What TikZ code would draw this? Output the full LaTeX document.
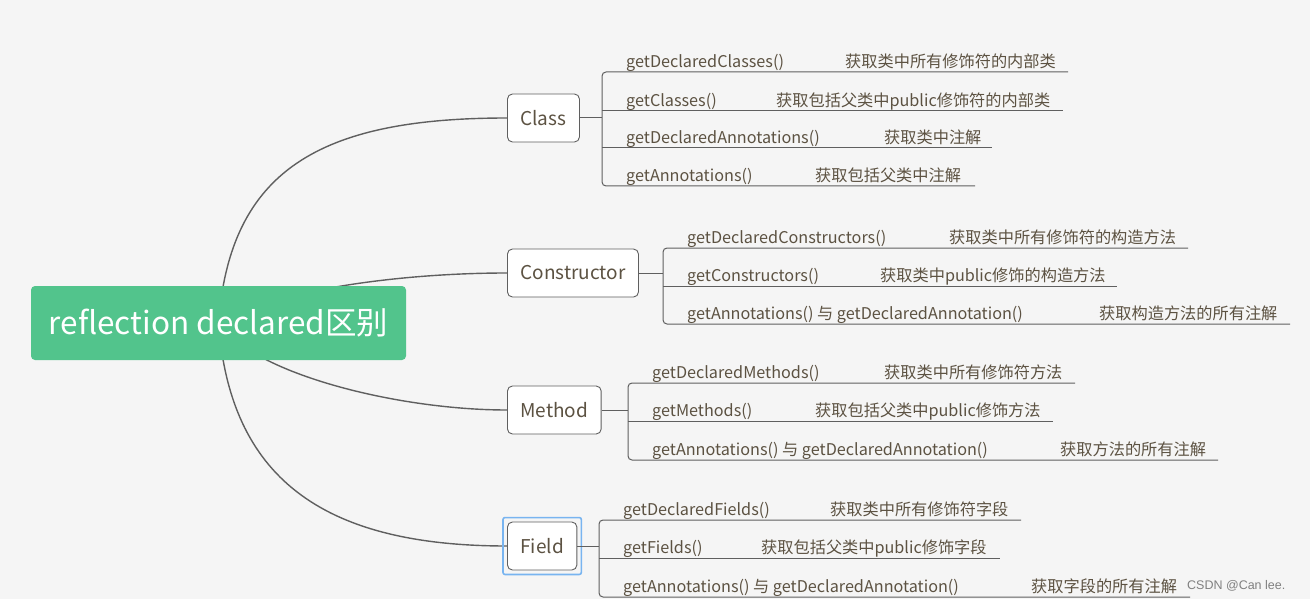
\documentclass[tikz,border=0pt]{standalone}
\usepackage{fontspec}
\setmainfont{Noto Sans CJK SC}
\newfontfamily\wmfont{Liberation Sans}
\usepackage{xcolor}
\usetikzlibrary{positioning,backgrounds,calc}

\definecolor{rootgreen}{RGB}{82,196,140}
\definecolor{bgpaper}{RGB}{245,245,245}
\definecolor{linegray}{RGB}{95,95,95}
\definecolor{txtbrown}{RGB}{92,82,66}
\definecolor{selblue}{RGB}{120,180,240}

\begin{document}
\begin{tikzpicture}[x=1pt,y=-1pt,
  root/.style={fill=rootgreen,rounded corners=4pt,text=white,font=\fontsize{31.5}{36}\selectfont,minimum width=375pt,minimum height=74pt},
  cat/.style={draw=linegray,fill=white,rounded corners=5pt,line width=0.9pt,text=txtbrown,font=\fontsize{19}{23}\selectfont,minimum height=48pt,inner xsep=13pt,anchor=west},
  item/.style={anchor=base west,inner sep=0pt,text=txtbrown,font=\fontsize{16.2}{19}\selectfont},
  branch/.style={draw=linegray,line width=1pt,rounded corners=4pt},
  link/.style={draw=linegray,line width=1.4pt}]
\useasboundingbox (0,0) rectangle (1310,599);

% root and the four categories
\node[root] (root) at (218.5,323) {reflection declared区别};
\node[cat] (class) at (507,118) {Class};
\node[cat] (ctor) at (507,273) {Constructor};
\node[cat] (method) at (507,410) {Method};
\node[cat] (field) at (507,546) {Field};
\draw[selblue,line width=1.6pt,rounded corners=2pt] ([xshift=-4pt,yshift=-4pt]field.south west) rectangle ([xshift=4pt,yshift=4pt]field.north east);

\begin{scope}[on background layer]
\fill[bgpaper] (0,0) rectangle (1310,599);
\draw[link] (root.center) .. controls (230,170) and (320,118) .. (class.west);
\draw[link] (root.center) .. controls (275,290) and (400,273) .. (ctor.west);
\draw[link] (root.center) .. controls (255,375) and (400,410) .. (method.west);
\draw[link] (root.center) .. controls (230,476) and (320,546) .. (field.west);
\end{scope}

% Class
\coordinate (classBr) at (602,118);
\draw[branch] (class.east) -- (classBr);
\draw[branch] (1068,72) -- (602,72) -- (602,186) -- (975,186);
\draw[branch] (602,111) -- (1063,111);
\draw[branch] (602,148) -- (992,148);
\node[item] (cls1) at (626,67.5) {getDeclaredClasses()};
\node[item] (cls1d) at (845,67.5) {获取类中所有修饰符的内部类};
\node[item] (cls2) at (626,106.5) {getClasses()};
\node[item] (cls2d) at (776,106.5) {获取包括父类中public修饰符的内部类};
\node[item] (cls3) at (626,143.5) {getDeclaredAnnotations()};
\node[item] (cls3d) at (884,143.5) {获取类中注解};
\node[item] (cls4) at (626,181.5) {getAnnotations()};
\node[item] (cls4d) at (815,181.5) {获取包括父类中注解};

% Constructor
\coordinate (ctorBr) at (663,273);
\draw[branch] (ctor.east) -- (ctorBr);
\draw[branch] (1188,248) -- (663,248) -- (663,324) -- (1290,324);
\draw[branch] (663,286) -- (1117,286);
\node[item] (ctr1) at (687,243.5) {getDeclaredConstructors()};
\node[item] (ctr1d) at (949,243.5) {获取类中所有修饰符的构造方法};
\node[item] (ctr2) at (687,281.5) {getConstructors()};
\node[item] (ctr2d) at (880,281.5) {获取类中public修饰的构造方法};
\node[item] (ctr3) at (687,319.5) {getAnnotations() 与 getDeclaredAnnotation()};
\node[item] (ctr3d) at (1099,319.5) {获取构造方法的所有注解};

% Method
\coordinate (methodBr) at (628,410);
\draw[branch] (method.east) -- (methodBr);
\draw[branch] (1075,383) -- (628,383) -- (628,460) -- (1218,460);
\draw[branch] (628,421) -- (1053,421);
\node[item] (mth1) at (652,378.5) {getDeclaredMethods()};
\node[item] (mth1d) at (884,378.5) {获取类中所有修饰符方法};
\node[item] (mth2) at (652,416.5) {getMethods()};
\node[item] (mth2d) at (815,416.5) {获取包括父类中public修饰方法};
\node[item] (mth3) at (652,455.5) {getAnnotations() 与 getDeclaredAnnotation()};
\node[item] (mth3d) at (1060,455.5) {获取方法的所有注解};

% Field
\coordinate (fieldBr) at (599,546);
\draw[branch] (field.east) -- (fieldBr);
\draw[branch] (1021,520) -- (599,520) -- (599,597) -- (1190,597);
\draw[branch] (599,558) -- (1000,558);
\node[item] (fld1) at (623,515.5) {getDeclaredFields()};
\node[item] (fld1d) at (830,515.5) {获取类中所有修饰符字段};
\node[item] (fld2) at (623,553.5) {getFields()};
\node[item] (fld2d) at (761,553.5) {获取包括父类中public修饰字段};
\node[item] (fld3) at (623,592.5) {getAnnotations() 与 getDeclaredAnnotation()};
\node[item] (fld3d) at (1031,592.5) {获取字段的所有注解};

\node[anchor=base west,inner sep=0pt,text=gray,font=\wmfont\fontsize{12.5}{15}\selectfont] (mark) at (1187,589) {CSDN @Can lee.};
\end{tikzpicture}
\end{document}
